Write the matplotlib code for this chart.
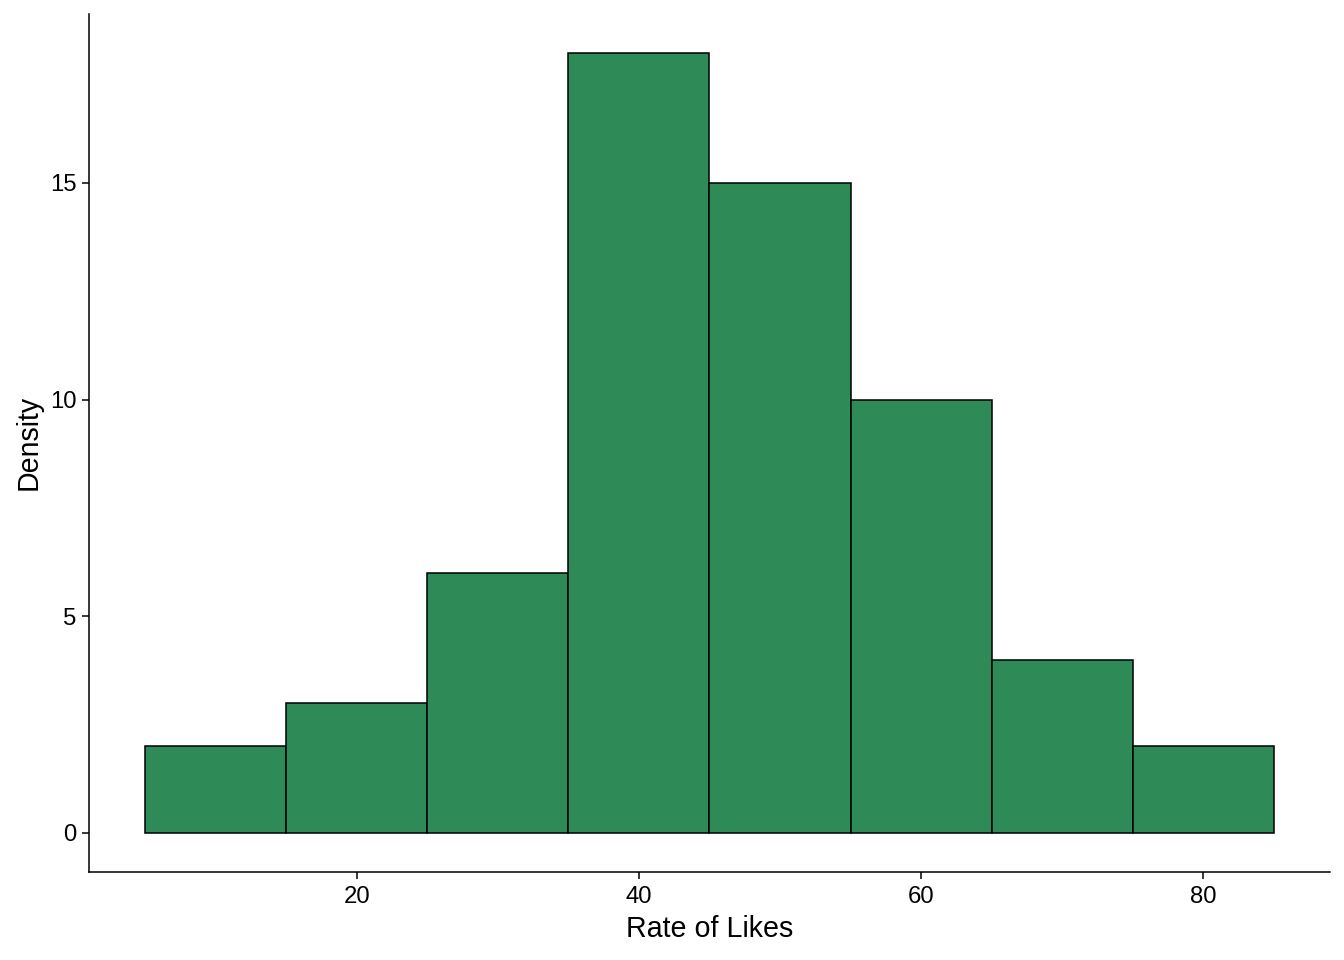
import matplotlib
matplotlib.use('Agg')
import matplotlib.pyplot as plt

plt.rcParams['font.family'] = ['Liberation Sans', 'DejaVu Sans']

# histogram bins (edges) and counts
bin_edges = [5, 15, 25, 35, 45, 55, 65, 75, 85]
counts = [2, 3, 6, 18, 15, 10, 4, 2]
x_ticks = [20, 40, 60, 80]
y_ticks = [0, 5, 10, 15]

fig = plt.figure(figsize=(13.44, 9.6), dpi=100)
ax = fig.add_axes([0.0662, 0.0917, 0.9234, 0.894])

ax.hist(bin_edges[:-1], bins=bin_edges, weights=counts,
        color='#2E8B57', edgecolor='black', linewidth=1.1)

ax.set_xlim(1, 89)
ax.set_ylim(-0.9, 18.9)
ax.set_xticks(x_ticks)
ax.set_yticks(y_ticks)

for side in ['top', 'right']:
    ax.spines[side].set_visible(False)
for side in ['left', 'bottom']:
    ax.spines[side].set_linewidth(1.1)

ax.tick_params(axis='both', length=5, width=1.1, labelsize=17.2, colors='black')
ax.tick_params(axis='x', pad=5)
ax.tick_params(axis='y', pad=4)

ax.set_xlabel('Rate of Likes', fontsize=20.6, labelpad=5)
ax.set_ylabel('Density', fontsize=20.6, labelpad=5)

fig.savefig('out.png', dpi=100)
